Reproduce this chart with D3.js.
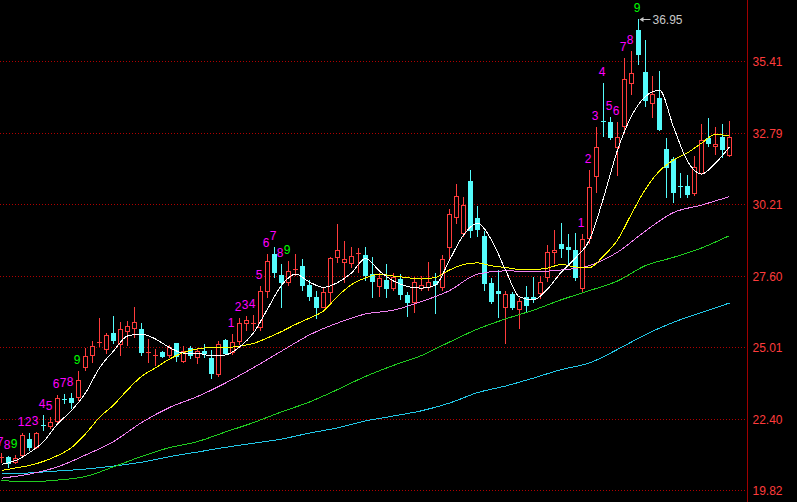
<!DOCTYPE html>
<html><head><meta charset="utf-8">
<script src="https://cdn.jsdelivr.net/npm/d3@7"></script>
<style>html,body{margin:0;padding:0;background:#000;overflow:hidden}</style>
</head><body><svg id="c" width="797" height="502"></svg>
<script>
// ---- data ----
const open  = [21.00,21.00,20.84,21.07,21.65,21.38,22.18,22.15,22.33,23.13,23.17,23.20,24.27,24.72,25.14,24.94,25.51,25.11,25.60,25.71,25.66,24.82,24.67,24.84,24.73,25.14,24.51,24.96,24.66,24.87,24.62,24.03,25.26,24.84,25.23,25.87,25.88,25.75,27.06,28.39,27.63,27.38,27.82,27.95,27.26,26.84,26.47,27.02,28.27,28.11,28.07,28.39,28.35,27.66,27.23,27.45,27.17,27.47,26.90,26.66,27.17,27.19,27.42,27.18,28.66,29.73,29.17,31.05,29.71,29.05,27.35,27.05,26.47,26.94,26.39,26.82,26.82,26.96,27.57,28.45,28.75,28.63,28.54,27.17,28.96,31.24,33.23,33.18,32.27,33.06,34.60,36.54,35.02,33.87,34.07,32.21,31.83,30.87,30.86,30.60,31.35,32.60,32.33,32.66,31.99];
const high  = [21.16,21.05,21.08,21.89,21.89,21.93,22.54,22.47,23.26,23.30,23.33,24.15,24.96,25.23,26.07,25.52,26.15,25.93,25.97,26.47,25.89,25.29,24.94,24.85,25.08,25.14,25.05,25.05,24.96,25.11,24.90,25.23,25.29,25.47,26.07,26.14,26.17,27.23,28.39,28.66,28.03,28.14,28.39,28.20,27.45,27.06,27.18,28.29,29.48,28.86,28.66,28.60,28.63,28.29,27.69,28.03,27.71,27.66,27.02,27.54,27.59,28.10,27.70,28.35,30.02,30.94,30.45,31.45,30.14,29.24,27.51,27.81,27.06,27.02,26.78,27.23,27.54,27.59,28.72,29.26,29.51,29.12,29.14,29.12,31.45,33.02,34.62,33.36,33.18,35.53,35.77,36.95,36.17,34.86,35.06,32.62,31.93,31.33,31.26,31.95,33.12,33.35,33.02,33.12,33.24];
const low   = [20.84,20.66,20.79,21.02,21.26,21.33,21.99,22.07,22.27,22.96,22.78,23.08,24.17,24.47,25.05,24.80,25.14,24.72,25.08,25.38,24.72,24.47,24.35,24.63,24.66,24.51,24.47,24.60,24.44,24.66,23.89,23.97,24.75,24.75,25.12,25.61,25.63,25.63,26.84,27.57,26.47,27.26,27.63,27.08,26.72,26.07,26.45,26.60,28.11,27.38,27.93,27.75,27.45,26.84,26.87,26.84,27.08,26.75,26.14,26.29,27.08,27.08,26.26,27.08,28.17,29.53,29.05,29.02,29.05,27.08,26.60,26.11,25.17,26.38,25.69,26.33,26.66,26.78,27.42,28.05,28.29,28.07,27.45,27.06,28.78,30.66,32.68,32.56,31.26,32.78,34.21,35.30,33.77,33.38,32.90,30.45,30.27,30.47,30.47,30.54,31.30,32.33,32.02,31.93,31.95];
const close = [21.02,20.80,20.97,21.81,21.38,21.87,22.16,22.27,23.14,23.11,23.02,23.81,24.68,25.05,25.18,25.45,25.26,25.65,25.77,25.92,24.84,24.84,24.71,24.69,25.02,24.68,24.87,24.72,24.86,24.80,24.07,25.12,24.80,25.19,25.87,25.99,25.90,27.06,28.14,27.75,27.38,27.77,27.85,27.26,26.86,26.47,27.02,28.23,28.54,28.20,28.32,28.43,27.63,27.41,27.51,27.17,27.57,26.94,26.66,27.38,27.26,27.37,27.31,28.20,29.85,30.50,30.17,29.26,29.29,27.35,26.69,26.98,26.94,26.47,26.68,26.55,26.74,27.36,28.45,28.54,28.60,28.58,27.57,28.93,30.82,32.27,33.19,32.66,32.66,34.75,34.96,35.66,33.99,34.20,32.94,31.57,30.66,30.84,30.57,31.54,32.54,32.44,32.39,32.20,32.63];

// moving averages: ma5 / ma10 read every 2 bars, the slower ones every 4 bars
const ma5   = [20.74,20.88,21.17,21.57,22.21,22.70,23.34,24.25,24.86,25.41,25.48,25.30,24.99,24.79,24.78,24.69,24.72,25.01,25.52,26.39,27.25,27.66,27.37,27.18,27.35,27.70,28.23,27.77,27.41,27.21,27.15,27.26,28.17,29.08,29.51,28.90,27.81,26.83,26.72,27.12,27.74,28.25,28.90,30.43,32.17,33.41,34.12,34.35,33.01,31.77,31.30,31.70,32.28];
const ma10  = [20.52,20.61,20.70,20.85,21.06,21.35,21.85,22.45,22.90,23.45,23.94,24.25,24.57,24.81,24.94,24.99,24.99,25.04,25.14,25.34,25.57,25.83,26.06,26.32,26.85,27.28,27.52,27.66,27.59,27.53,27.48,27.54,27.81,28.01,28.07,27.96,27.90,27.83,27.83,27.88,28.01,27.92,27.90,28.32,28.90,29.85,30.75,31.41,31.81,32.07,32.42,32.74,32.68];
const ma20  = [20.24,20.39,20.65,21.08,21.57,22.26,22.81,23.21,23.70,24.26,24.86,25.45,25.88,26.21,26.35,26.66,27.06,27.66,27.78,27.75,27.81,27.97,28.46,29.23,29.90,30.17,30.48];
const ma60  = [20.15,20.11,20.17,20.30,20.65,21.03,21.35,21.57,21.92,22.26,22.65,23.01,23.46,23.94,24.34,24.70,25.19,25.66,26.03,26.35,26.73,27.06,27.41,27.97,28.27,28.61,29.06];
const ma120 = [20.39,20.43,20.50,20.57,20.68,20.82,21.02,21.19,21.36,21.51,21.66,21.88,22.07,22.32,22.50,22.69,22.97,23.35,23.59,23.88,24.19,24.43,24.92,25.46,25.91,26.26,26.61];

const tickValues = [19.82,22.40,25.01,27.60,30.21,32.79,35.41];

// TD sequential counts
const tdIdx = [0,1,2, 3,4,5,6,7,8,9,10,11, 33,34,35,36,37,38,39,40,41, 83,84,85,86,87,88,89,90,91];
const tdNum = [7,8,9, 1,2,3,4,5,6,7,8,9, 1,2,3,4,5,6,7,8,9, 1,2,3,4,5,6,7,8,9];

const peakIdx = 91, peakLabel = "36.95";

// ---- drawing ----
const W = 797, H = 502, axisX = 747;
const UP = "#ff3c3c", DOWN = "#54fcfc";
const FONT = "'Liberation Sans', Arial, sans-serif";
const svg = d3.select("#c");
svg.append("rect").attr("width", W).attr("height", H).attr("fill", "#000");

const n = open.length;
const x = d3.scaleLinear().domain([0, n - 1]).range([1.5, 1.5 + 7 * (n - 1)]);
const y = d3.scaleLinear().domain([19.82, 35.41]).range([489.7, 61]);

// grid
svg.append("g").selectAll("line").data(tickValues).join("line")
  .attr("x1", 0).attr("x2", axisX)
  .attr("y1", d => Math.round(y(d)) + 0.5).attr("y2", d => Math.round(y(d)) + 0.5)
  .attr("stroke", "#b00000").attr("stroke-dasharray", "1,2")
  .attr("shape-rendering", "crispEdges");

// right axis
const axis = d3.axisRight(y).tickValues(tickValues).tickSize(0).tickPadding(5)
  .tickFormat(d3.format(".2f"));
const ag = svg.append("g").attr("transform", `translate(${axisX + 0.5},0)`).call(axis);
ag.select(".domain").remove();
ag.selectAll("text").attr("fill", "#ff3c3c").attr("font-family", FONT)
  .attr("font-size", "12px").attr("dy", "0.36em");
svg.append("line").attr("x1", axisX + 0.5).attr("x2", axisX + 0.5)
  .attr("y1", 0).attr("y2", H).attr("stroke", "#a00000")
  .attr("shape-rendering", "crispEdges");

// candles
const cg = svg.append("g").attr("shape-rendering", "crispEdges");
d3.range(n).forEach(i => {
  const c = x(i), o = open[i], cl = close[i];
  const up = cl >= o, col = up ? UP : DOWN;
  cg.append("line").attr("x1", c).attr("x2", c)
    .attr("y1", Math.round(y(high[i]))).attr("y2", Math.round(y(low[i])) + 1)
    .attr("stroke", col);
  const top = Math.round(y(Math.max(o, cl))), bot = Math.round(y(Math.min(o, cl)));
  if (bot - top < 2) {
    cg.append("line").attr("x1", c - 2.5).attr("x2", c + 2.5)
      .attr("y1", top + 0.5).attr("y2", top + 0.5).attr("stroke", col);
  } else if (up) {
    cg.append("rect").attr("x", c - 2).attr("y", top + 0.5)
      .attr("width", 4).attr("height", bot - top)
      .attr("fill", "#000").attr("stroke", col);
  } else {
    cg.append("rect").attr("x", c - 2.5).attr("y", top)
      .attr("width", 5).attr("height", bot - top + 1).attr("fill", col);
  }
});

// moving averages
const mas = [
  {v: ma120, step: 4, color: "#22c8e8"},
  {v: ma60,  step: 4, color: "#20cc20"},
  {v: ma20,  step: 4, color: "#f080f0"},
  {v: ma10,  step: 2, color: "#ffff00"},
  {v: ma5,   step: 2, color: "#ffffff"}
];
const line = d3.line().x(d => x(d[0])).y(d => y(d[1])).curve(d3.curveMonotoneX);
mas.forEach(m => {
  svg.append("path").datum(m.v.map((v, k) => [k * m.step, v]))
    .attr("d", line).attr("fill", "none").attr("stroke", m.color).attr("stroke-width", 1)
    .attr("shape-rendering", "crispEdges");
});

// TD counts
svg.append("g").selectAll("text").data(tdIdx).join("text")
  .attr("x", d => x(d) - 1.5).attr("y", d => y(high[d]) - 7)
  .attr("text-anchor", "middle").attr("font-family", FONT).attr("font-size", "12px")
  .attr("fill", (d, k) => tdNum[k] === 9 ? "#00ff00" : "#ff00ff")
  .text((d, k) => tdNum[k]);

// peak annotation
const px = x(peakIdx), py = Math.round(y(high[peakIdx])) + 0.5;
svg.append("line").attr("x1", px + 2).attr("x2", px + 12).attr("y1", py).attr("y2", py)
  .attr("stroke", "#c8c8c8");
svg.append("path").attr("d", `M${px + 1},${py} L${px + 5},${py - 2.5} L${px + 5},${py + 2.5} Z`)
  .attr("fill", "#c8c8c8");
svg.append("text").attr("x", px + 14).attr("y", py + 4.5)
  .attr("font-family", FONT).attr("font-size", "12px").attr("fill", "#c8c8c8")
  .text(peakLabel);
</script></body></html>
